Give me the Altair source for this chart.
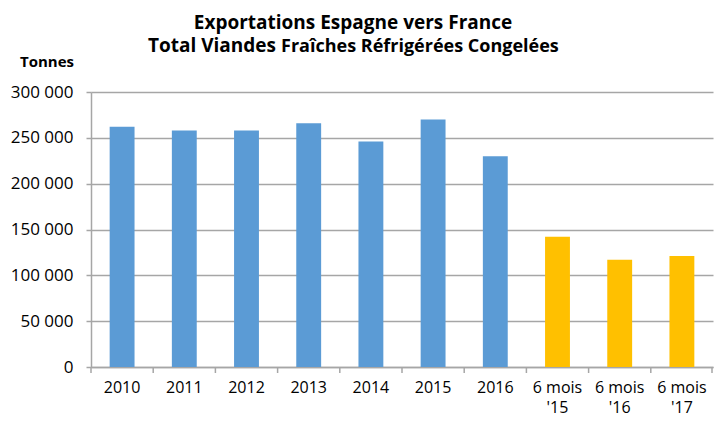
import altair as alt
import pandas as pd

categories = ["2010", "2011", "2012", "2013", "2014", "2015", "2016",
              "6 mois|'15", "6 mois|'16", "6 mois|'17"]
values = [262000, 258000, 258000, 266000, 246000, 270000, 230000,
          142000, 117000, 121000]
periods = ["Année"] * 7 + ["6 mois"] * 3

title_line1 = "Exportations Espagne vers France"
title_line2a = "Total Viandes"
title_line2b = "Fraîches Réfrigérées  Congelées"
y_unit = "Tonnes"

df = pd.DataFrame({"cat": categories, "value": values, "period": periods})

FONT = "Open Sans"
GRID = "#A6A6A6"
W, H = 622, 275
STEP = W / len(categories)

xenc = alt.X("cat:N", sort=categories, title=None,
             scale=alt.Scale(paddingInner=0.6, paddingOuter=0.3),
             axis=alt.Axis(labelAngle=0, labelFont=FONT, labelFontSize=16,
                           labelColor="#000000", labelPadding=12,
                           labelExpr="split(datum.value, '|')",
                           labelLineHeight=20, ticks=False,
                           domainColor=GRID, domainWidth=1.5, grid=False))

bars = alt.Chart(df).mark_bar().encode(
    x=xenc,
    y=alt.Y("value:Q", title=None,
            scale=alt.Scale(domain=[0, 300000], nice=False),
            axis=alt.Axis(values=[0, 50000, 100000, 150000, 200000, 250000, 300000],
                          labelExpr="datum.value == 0 ? '0' : format(datum.value/1000, 'd') + ' 000'",
                          labelFont=FONT, labelFontSize=17, labelColor="#000000",
                          labelPadding=13, tickSize=5, tickColor=GRID, tickWidth=1.5,
                          domainColor=GRID, domainWidth=1.5,
                          grid=True, gridColor=GRID, gridWidth=1.5)),
    color=alt.Color("period:N",
                    scale=alt.Scale(domain=["Année", "6 mois"],
                                    range=["#5B9BD5", "#FFC000"]),
                    legend=None),
)

# Excel-style ticks between categories, below the x axis
xticks = alt.Chart(df).mark_rule(color=GRID, strokeWidth=1.5, xOffset=-STEP / 2).encode(
    x=alt.X("cat:N", sort=categories),
    y=alt.value(H), y2=alt.value(H + 6),
)
end_tick = alt.Chart(pd.DataFrame({"t": [0]})).mark_rule(color=GRID, strokeWidth=1.5).encode(
    x=alt.value(W - 1), y=alt.value(H), y2=alt.value(H + 6),
)

tdf = pd.DataFrame({"t": [0]})

t1 = alt.Chart(tdf).mark_text(text=title_line1, font=FONT, fontSize=19,
                              fontWeight="bold", align="center", baseline="alphabetic",
                              color="#000000").encode(x=alt.value(262), y=alt.value(-63))
t2a = alt.Chart(tdf).mark_text(text=title_line2a, font=FONT, fontSize=19,
                               fontWeight="bold", align="right", baseline="alphabetic",
                               color="#000000").encode(x=alt.value(185), y=alt.value(-40))
t2b = alt.Chart(tdf).mark_text(text=title_line2b, font=FONT, fontSize=18,
                               fontWeight="bold", align="left", baseline="alphabetic",
                               color="#000000").encode(x=alt.value(190), y=alt.value(-40))
tu = alt.Chart(tdf).mark_text(text=y_unit, font=FONT, fontSize=15,
                              fontWeight="bold", align="center", baseline="alphabetic",
                              color="#000000").encode(x=alt.value(-44), y=alt.value(-25))

chart = alt.layer(bars, xticks, end_tick, t1, t2a, t2b, tu).properties(
    width=W, height=H,
    autosize=alt.AutoSizeParams(type="none"),
    padding={"left": 91, "top": 92, "right": 2, "bottom": 57},
    background="#FFFFFF",
).configure_view(stroke=None)

chart.save("out.html", embed_options={"renderer": "svg", "actions": False})
